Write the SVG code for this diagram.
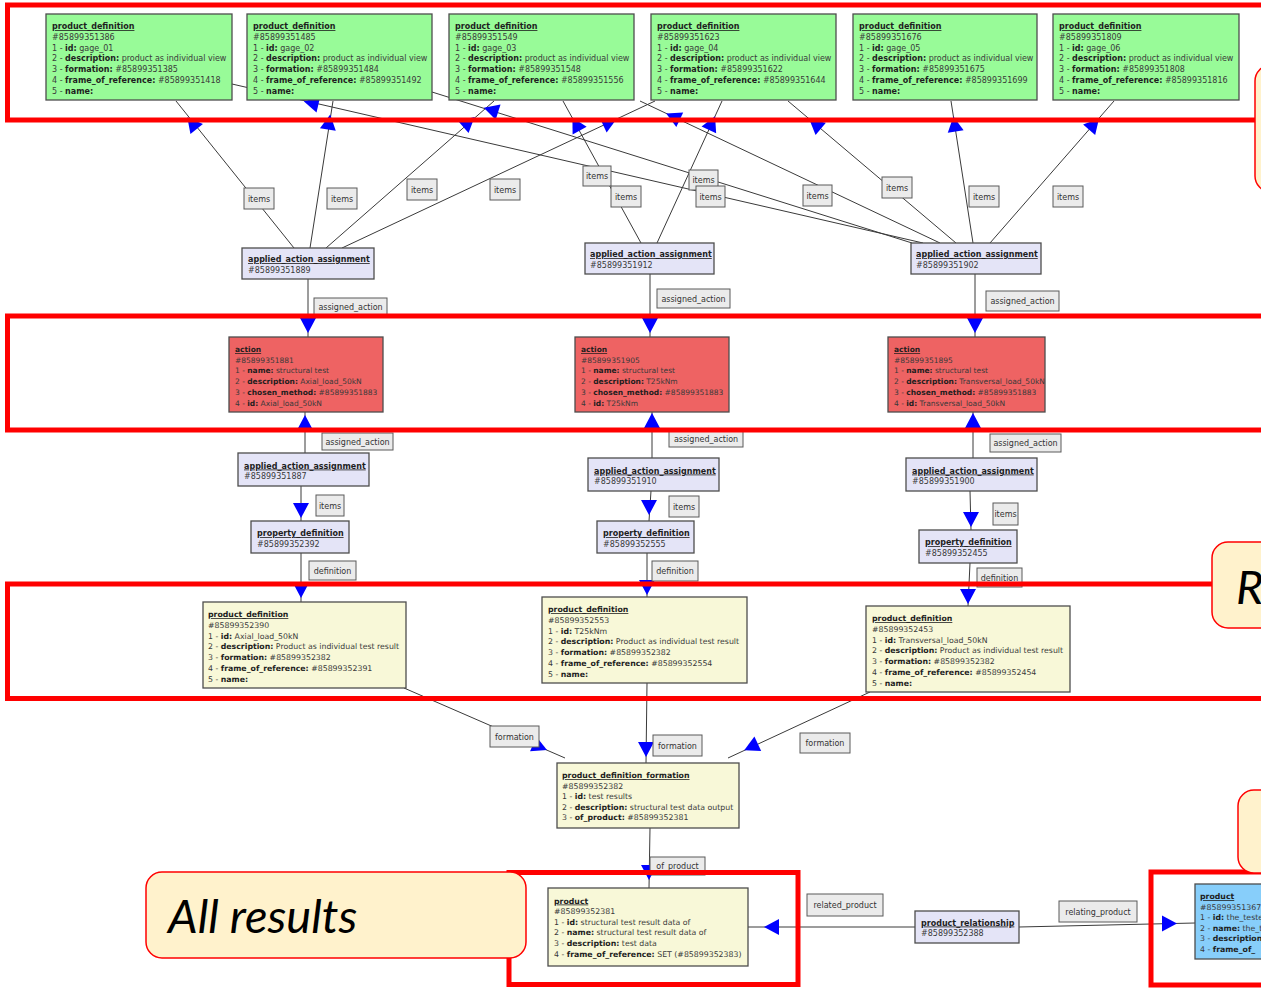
<svg xmlns="http://www.w3.org/2000/svg" xmlns:xlink="http://www.w3.org/1999/xlink" width="1261" height="988" viewBox="0 0 1261 988">
<style>
  .node rect { stroke: #4d4d4d; stroke-width: 1.3; }
  .g { fill: #98fb98; }
  .r { fill: #ee6363; }
  .l { fill: #e4e4f7; }
  .y { fill: #f8f8d8; }
  .b { fill: #87cefa; }
  .t { font-family: "DejaVu Sans", Verdana, sans-serif; font-size: 8px; fill: #3a3a3a; }
  .t.s { font-size: 7.5px; }
  .t.m { font-size: 7.8px; }
  .h { font-weight: bold; text-decoration: underline; fill: #1e1e1e; }
  .k { font-weight: bold; fill: #1e1e1e; }
  .lab rect { fill: #ebebeb; stroke: #5a5a5a; stroke-width: 1; }
  .lab text { font-family: "DejaVu Sans", Verdana, sans-serif; font-size: 8px; fill: #333; text-anchor: middle; }
  .conn line { stroke: #3a3a3a; stroke-width: 1; }
  .band { fill: none; stroke: #ff0000; stroke-width: 5; }
  .call { fill: #fff2cc; stroke: #ff0000; stroke-width: 1.5; }
  .big { font-family: Lato, "Liberation Sans", sans-serif; font-style: italic; font-size: 47px; fill: #000; }
</style>
<defs>
  <path id="ah" d="M0,0 L-15,-8 L-15,8 Z" fill="#0000ff"/>
</defs>
<rect width="1261" height="988" fill="#ffffff"/>

<!-- connectors -->
<g id="connectors" class="conn">
  <line x1="294" y1="248" x2="176" y2="101"/>
  <line x1="310" y1="248" x2="333" y2="101"/>
  <line x1="326" y1="248" x2="494" y2="101"/>
  <line x1="342" y1="248" x2="655" y2="101"/>
  <line x1="641" y1="243" x2="563" y2="101"/>
  <line x1="657" y1="243" x2="722" y2="101"/>
  <line x1="912" y1="243" x2="432" y2="92"/>
  <line x1="923" y1="243" x2="232" y2="84"/>
  <line x1="940" y1="243" x2="640" y2="101"/>
  <line x1="956" y1="243" x2="788" y2="101"/>
  <line x1="973" y1="243" x2="951" y2="101"/>
  <line x1="990" y1="243" x2="1114" y2="101"/>
  <line x1="308" y1="279" x2="308" y2="337"/>
  <line x1="650" y1="274" x2="650" y2="337"/>
  <line x1="975" y1="274" x2="975" y2="337"/>
  <line x1="305" y1="453" x2="305" y2="412"/>
  <line x1="652" y1="458" x2="652" y2="412"/>
  <line x1="973" y1="458" x2="973" y2="412"/>
  <line x1="301" y1="486" x2="301" y2="521"/>
  <line x1="651" y1="491" x2="649" y2="521"/>
  <line x1="970" y1="491" x2="971" y2="530"/>
  <line x1="301" y1="553" x2="301" y2="602"/>
  <line x1="647" y1="553" x2="647" y2="597"/>
  <line x1="970" y1="563" x2="968" y2="606"/>
  <line x1="404" y1="688" x2="565" y2="758"/>
  <line x1="647" y1="683" x2="646" y2="763"/>
  <line x1="870" y1="692" x2="728" y2="758"/>
  <line x1="650" y1="828" x2="649" y2="888"/>
  <line x1="915" y1="927" x2="748" y2="927"/>
  <line x1="1019" y1="927" x2="1195" y2="923"/>

  <!-- arrowheads -->
  <use xlink:href="#ah" transform="translate(187.3,117.2) rotate(-128.8)"/>
  <use xlink:href="#ah" transform="translate(330.2,114.6) rotate(-81.1)"/>
  <use xlink:href="#ah" transform="translate(474.6,117.1) rotate(-41.2)"/>
  <use xlink:href="#ah" transform="translate(616.8,118.8) rotate(-25.2)"/>
  <use xlink:href="#ah" transform="translate(572.4,117.4) rotate(-118.8)"/>
  <use xlink:href="#ah" transform="translate(715.1,116.2) rotate(-65.4)"/>
  <use xlink:href="#ah" transform="translate(483.8,107.7) rotate(-162.5)"/>
  <use xlink:href="#ah" transform="translate(303.7,101.3) rotate(-167)"/>
  <use xlink:href="#ah" transform="translate(666.2,113.4) rotate(-154.7)"/>
  <use xlink:href="#ah" transform="translate(809.3,119.2) rotate(-139.8)"/>
  <use xlink:href="#ah" transform="translate(953.4,116.6) rotate(-98.8)"/>
  <use xlink:href="#ah" transform="translate(1099,118.4) rotate(-48.9)"/>
  <use xlink:href="#ah" transform="translate(308,333) rotate(90)"/>
  <use xlink:href="#ah" transform="translate(650,333) rotate(90)"/>
  <use xlink:href="#ah" transform="translate(975,333) rotate(90)"/>
  <use xlink:href="#ah" transform="translate(305,415) rotate(-90)"/>
  <use xlink:href="#ah" transform="translate(652,413) rotate(-90)"/>
  <use xlink:href="#ah" transform="translate(973,413) rotate(-90)"/>
  <use xlink:href="#ah" transform="translate(301,518) rotate(90)"/>
  <use xlink:href="#ah" transform="translate(649,515) rotate(90)"/>
  <use xlink:href="#ah" transform="translate(971,527) rotate(90)"/>
  <use xlink:href="#ah" transform="translate(301,598) rotate(90)"/>
  <use xlink:href="#ah" transform="translate(647,595) rotate(90)"/>
  <use xlink:href="#ah" transform="translate(968,604) rotate(90)"/>
  <use xlink:href="#ah" transform="translate(646,757) rotate(90)"/>
  <use xlink:href="#ah" transform="translate(649,880) rotate(90)"/>
  <use xlink:href="#ah" transform="translate(547,750) rotate(23.5)"/>
  <use xlink:href="#ah" transform="translate(744.2,750.2) rotate(155)"/>
  <use xlink:href="#ah" transform="translate(764,927) rotate(180)"/>
  <use xlink:href="#ah" transform="translate(1177,923.5)"/>

  <!-- attribute labels -->
  <g class="lab">
    <rect x="244" y="188" width="30" height="21"/><text x="259" y="201.5">items</text>
    <rect x="327" y="188" width="30" height="21"/><text x="342" y="201.5">items</text>
    <rect x="407" y="179" width="30" height="21"/><text x="422" y="192.5">items</text>
    <rect x="490" y="179" width="30" height="21"/><text x="505" y="192.5">items</text>
    <rect x="583" y="166" width="28" height="20"/><text x="597" y="179">items</text>
    <rect x="611" y="186" width="30" height="21"/><text x="626" y="199.5">items</text>
    <rect x="689" y="170" width="29" height="20"/><text x="703.5" y="183">items</text>
    <rect x="696" y="186" width="29" height="21"/><text x="710.5" y="199.5">items</text>
    <rect x="803" y="185" width="29" height="21"/><text x="817.5" y="198.5">items</text>
    <rect x="882" y="177" width="30" height="21"/><text x="897" y="190.5">items</text>
    <rect x="969" y="186" width="30" height="21"/><text x="984" y="199.5">items</text>
    <rect x="1053" y="186" width="30" height="21"/><text x="1068" y="199.5">items</text>

    <rect x="314" y="298" width="73" height="17"/><text x="350.5" y="309.5">assigned_action</text>
    <rect x="657" y="289" width="73" height="19"/><text x="693.5" y="301.5">assigned_action</text>
    <rect x="986" y="291" width="73" height="20"/><text x="1022.5" y="304">assigned_action</text>
    <rect x="322" y="433" width="71" height="17"/><text x="357.5" y="444.5">assigned_action</text>
    <rect x="669" y="430" width="74" height="17"/><text x="706" y="441.5">assigned_action</text>
    <rect x="990" y="434" width="71" height="18"/><text x="1025.5" y="446">assigned_action</text>

    <rect x="316" y="495" width="28" height="21"/><text x="330" y="508.5">items</text>
    <rect x="669" y="496" width="30" height="21"/><text x="684" y="509.5">items</text>
    <rect x="993" y="503" width="25" height="22"/><text x="1005.5" y="517">items</text>

    <rect x="309" y="561" width="47" height="19"/><text x="332.5" y="573.5">definition</text>
    <rect x="652" y="561" width="46" height="20"/><text x="675" y="574">definition</text>
    <rect x="977" y="568" width="45" height="19"/><text x="999.5" y="580.5">definition</text>

    <rect x="490" y="726" width="49" height="21"/><text x="514.5" y="739.5">formation</text>
    <rect x="653" y="735" width="49" height="21"/><text x="677.5" y="748.5">formation</text>
    <rect x="800" y="733" width="50" height="20"/><text x="825" y="746">formation</text>

    <rect x="650" y="857" width="55" height="18"/><text x="677.5" y="869">of_product</text>
    <rect x="807" y="894" width="76" height="22"/><text x="845" y="908">related_product</text>
    <rect x="1059" y="901" width="78" height="21"/><text x="1098" y="914.5">relating_product</text>
  </g>
</g>

<!-- gage product definitions -->
<g id="pd-351386" class="node">
  <rect class="g" x="46" y="14" width="186" height="86"/>
  <text class="t" x="52" y="29"><tspan class="h">product_definition</tspan><tspan x="52" dy="10.8">#85899351386</tspan><tspan x="52" dy="10.8">1 - <tspan class="k">id:</tspan> gage_01</tspan><tspan x="52" dy="10.8">2 - <tspan class="k">description:</tspan> product as individual view</tspan><tspan x="52" dy="10.8">3 - <tspan class="k">formation:</tspan> #85899351385</tspan><tspan x="52" dy="10.8">4 - <tspan class="k">frame_of_reference:</tspan> #85899351418</tspan><tspan x="52" dy="10.8">5 - <tspan class="k">name:</tspan></tspan></text>
</g>
<g id="pd-351485" class="node">
  <rect class="g" x="247" y="14" width="185" height="86"/>
  <text class="t" x="253" y="29"><tspan class="h">product_definition</tspan><tspan x="253" dy="10.8">#85899351485</tspan><tspan x="253" dy="10.8">1 - <tspan class="k">id:</tspan> gage_02</tspan><tspan x="253" dy="10.8">2 - <tspan class="k">description:</tspan> product as individual view</tspan><tspan x="253" dy="10.8">3 - <tspan class="k">formation:</tspan> #85899351484</tspan><tspan x="253" dy="10.8">4 - <tspan class="k">frame_of_reference:</tspan> #85899351492</tspan><tspan x="253" dy="10.8">5 - <tspan class="k">name:</tspan></tspan></text>
</g>
<g id="pd-351549" class="node">
  <rect class="g" x="449" y="14" width="185" height="86"/>
  <text class="t" x="455" y="29"><tspan class="h">product_definition</tspan><tspan x="455" dy="10.8">#85899351549</tspan><tspan x="455" dy="10.8">1 - <tspan class="k">id:</tspan> gage_03</tspan><tspan x="455" dy="10.8">2 - <tspan class="k">description:</tspan> product as individual view</tspan><tspan x="455" dy="10.8">3 - <tspan class="k">formation:</tspan> #85899351548</tspan><tspan x="455" dy="10.8">4 - <tspan class="k">frame_of_reference:</tspan> #85899351556</tspan><tspan x="455" dy="10.8">5 - <tspan class="k">name:</tspan></tspan></text>
</g>
<g id="pd-351623" class="node">
  <rect class="g" x="651" y="14" width="185" height="86"/>
  <text class="t" x="657" y="29"><tspan class="h">product_definition</tspan><tspan x="657" dy="10.8">#85899351623</tspan><tspan x="657" dy="10.8">1 - <tspan class="k">id:</tspan> gage_04</tspan><tspan x="657" dy="10.8">2 - <tspan class="k">description:</tspan> product as individual view</tspan><tspan x="657" dy="10.8">3 - <tspan class="k">formation:</tspan> #85899351622</tspan><tspan x="657" dy="10.8">4 - <tspan class="k">frame_of_reference:</tspan> #85899351644</tspan><tspan x="657" dy="10.8">5 - <tspan class="k">name:</tspan></tspan></text>
</g>
<g id="pd-351676" class="node">
  <rect class="g" x="853" y="14" width="184" height="86"/>
  <text class="t" x="859" y="29"><tspan class="h">product_definition</tspan><tspan x="859" dy="10.8">#85899351676</tspan><tspan x="859" dy="10.8">1 - <tspan class="k">id:</tspan> gage_05</tspan><tspan x="859" dy="10.8">2 - <tspan class="k">description:</tspan> product as individual view</tspan><tspan x="859" dy="10.8">3 - <tspan class="k">formation:</tspan> #85899351675</tspan><tspan x="859" dy="10.8">4 - <tspan class="k">frame_of_reference:</tspan> #85899351699</tspan><tspan x="859" dy="10.8">5 - <tspan class="k">name:</tspan></tspan></text>
</g>
<g id="pd-351809" class="node">
  <rect class="g" x="1053" y="14" width="186" height="86"/>
  <text class="t" x="1059" y="29"><tspan class="h">product_definition</tspan><tspan x="1059" dy="10.8">#85899351809</tspan><tspan x="1059" dy="10.8">1 - <tspan class="k">id:</tspan> gage_06</tspan><tspan x="1059" dy="10.8">2 - <tspan class="k">description:</tspan> product as individual view</tspan><tspan x="1059" dy="10.8">3 - <tspan class="k">formation:</tspan> #85899351808</tspan><tspan x="1059" dy="10.8">4 - <tspan class="k">frame_of_reference:</tspan> #85899351816</tspan><tspan x="1059" dy="10.8">5 - <tspan class="k">name:</tspan></tspan></text>
</g>

<!-- applied action assignments (items) -->
<g id="aaa-351889" class="node">
  <rect class="l" x="242" y="248" width="132" height="31"/>
  <text class="t" x="248" y="262"><tspan class="h">applied_action_assignment</tspan><tspan x="248" dy="10.5">#85899351889</tspan></text>
</g>
<g id="aaa-351912" class="node">
  <rect class="l" x="585" y="243" width="129" height="31"/>
  <text class="t" x="590" y="257"><tspan class="h">applied_action_assignment</tspan><tspan x="590" dy="10.5">#85899351912</tspan></text>
</g>
<g id="aaa-351902" class="node">
  <rect class="l" x="911" y="243" width="130" height="31"/>
  <text class="t" x="916" y="257"><tspan class="h">applied_action_assignment</tspan><tspan x="916" dy="10.5">#85899351902</tspan></text>
</g>

<!-- actions -->
<g id="action-351881" class="node">
  <rect class="r" x="229" y="337" width="154" height="75"/>
  <text class="t s" x="235" y="352"><tspan class="h">action</tspan><tspan x="235" dy="10.7">#85899351881</tspan><tspan x="235" dy="10.7">1 - <tspan class="k">name:</tspan> structural test</tspan><tspan x="235" dy="10.7">2 - <tspan class="k">description:</tspan> Axial_load_50kN</tspan><tspan x="235" dy="10.7">3 - <tspan class="k">chosen_method:</tspan> #85899351883</tspan><tspan x="235" dy="10.7">4 - <tspan class="k">id:</tspan> Axial_load_50kN</tspan></text>
</g>
<g id="action-351905" class="node">
  <rect class="r" x="575" y="337" width="154" height="75"/>
  <text class="t s" x="581" y="352"><tspan class="h">action</tspan><tspan x="581" dy="10.7">#85899351905</tspan><tspan x="581" dy="10.7">1 - <tspan class="k">name:</tspan> structural test</tspan><tspan x="581" dy="10.7">2 - <tspan class="k">description:</tspan> T25kNm</tspan><tspan x="581" dy="10.7">3 - <tspan class="k">chosen_method:</tspan> #85899351883</tspan><tspan x="581" dy="10.7">4 - <tspan class="k">id:</tspan> T25kNm</tspan></text>
</g>
<g id="action-351895" class="node">
  <rect class="r" x="888" y="337" width="157" height="75"/>
  <text class="t s" x="894" y="352"><tspan class="h">action</tspan><tspan x="894" dy="10.7">#85899351895</tspan><tspan x="894" dy="10.7">1 - <tspan class="k">name:</tspan> structural test</tspan><tspan x="894" dy="10.7">2 - <tspan class="k">description:</tspan> Transversal_load_50kN</tspan><tspan x="894" dy="10.7">3 - <tspan class="k">chosen_method:</tspan> #85899351883</tspan><tspan x="894" dy="10.7">4 - <tspan class="k">id:</tspan> Transversal_load_50kN</tspan></text>
</g>

<!-- applied action assignments (property definitions) -->
<g id="aaa-351887" class="node">
  <rect class="l" x="238" y="453" width="131" height="33"/>
  <text class="t" x="244" y="468.5"><tspan class="h">applied_action_assignment</tspan><tspan x="244" dy="10.5">#85899351887</tspan></text>
</g>
<g id="aaa-351910" class="node">
  <rect class="l" x="588" y="458" width="131" height="33"/>
  <text class="t" x="594" y="473.5"><tspan class="h">applied_action_assignment</tspan><tspan x="594" dy="10.5">#85899351910</tspan></text>
</g>
<g id="aaa-351900" class="node">
  <rect class="l" x="906" y="458" width="131" height="33"/>
  <text class="t" x="912" y="473.5"><tspan class="h">applied_action_assignment</tspan><tspan x="912" dy="10.5">#85899351900</tspan></text>
</g>

<!-- property definitions -->
<g id="prop-352392" class="node">
  <rect class="l" x="251" y="521" width="98" height="32"/>
  <text class="t" x="257" y="536"><tspan class="h">property_definition</tspan><tspan x="257" dy="10.5">#85899352392</tspan></text>
</g>
<g id="prop-352555" class="node">
  <rect class="l" x="597" y="521" width="97" height="32"/>
  <text class="t" x="603" y="536"><tspan class="h">property_definition</tspan><tspan x="603" dy="10.5">#85899352555</tspan></text>
</g>
<g id="prop-352455" class="node">
  <rect class="l" x="919" y="530" width="98" height="33"/>
  <text class="t" x="925" y="545"><tspan class="h">property_definition</tspan><tspan x="925" dy="10.5">#85899352455</tspan></text>
</g>

<!-- test result product definitions -->
<g id="pd-352390" class="node">
  <rect class="y" x="203" y="602" width="203" height="86"/>
  <text class="t m" x="208" y="617"><tspan class="h">product_definition</tspan><tspan x="208" dy="10.8">#85899352390</tspan><tspan x="208" dy="10.8">1 - <tspan class="k">id:</tspan> Axial_load_50kN</tspan><tspan x="208" dy="10.8">2 - <tspan class="k">description:</tspan> Product as individual test result</tspan><tspan x="208" dy="10.8">3 - <tspan class="k">formation:</tspan> #85899352382</tspan><tspan x="208" dy="10.8">4 - <tspan class="k">frame_of_reference:</tspan> #85899352391</tspan><tspan x="208" dy="10.8">5 - <tspan class="k">name:</tspan></tspan></text>
</g>
<g id="pd-352553" class="node">
  <rect class="y" x="542" y="597" width="205" height="86"/>
  <text class="t m" x="548" y="612"><tspan class="h">product_definition</tspan><tspan x="548" dy="10.8">#85899352553</tspan><tspan x="548" dy="10.8">1 - <tspan class="k">id:</tspan> T25kNm</tspan><tspan x="548" dy="10.8">2 - <tspan class="k">description:</tspan> Product as individual test result</tspan><tspan x="548" dy="10.8">3 - <tspan class="k">formation:</tspan> #85899352382</tspan><tspan x="548" dy="10.8">4 - <tspan class="k">frame_of_reference:</tspan> #85899352554</tspan><tspan x="548" dy="10.8">5 - <tspan class="k">name:</tspan></tspan></text>
</g>
<g id="pd-352453" class="node">
  <rect class="y" x="866" y="606" width="204" height="86"/>
  <text class="t m" x="872" y="621"><tspan class="h">product_definition</tspan><tspan x="872" dy="10.8">#85899352453</tspan><tspan x="872" dy="10.8">1 - <tspan class="k">id:</tspan> Transversal_load_50kN</tspan><tspan x="872" dy="10.8">2 - <tspan class="k">description:</tspan> Product as individual test result</tspan><tspan x="872" dy="10.8">3 - <tspan class="k">formation:</tspan> #85899352382</tspan><tspan x="872" dy="10.8">4 - <tspan class="k">frame_of_reference:</tspan> #85899352454</tspan><tspan x="872" dy="10.8">5 - <tspan class="k">name:</tspan></tspan></text>
</g>

<!-- formation -->
<g id="pdf-352382" class="node">
  <rect class="y" x="557" y="763" width="182" height="65"/>
  <text class="t m" x="562" y="778"><tspan class="h">product_definition_formation</tspan><tspan x="562" dy="10.6">#85899352382</tspan><tspan x="562" dy="10.6">1 - <tspan class="k">id:</tspan> test results</tspan><tspan x="562" dy="10.6">2 - <tspan class="k">description:</tspan> structural test data output</tspan><tspan x="562" dy="10.6">3 - <tspan class="k">of_product:</tspan> #85899352381</tspan></text>
</g>

<!-- result product -->
<g id="product-352381" class="node">
  <rect class="y" x="548" y="888" width="200" height="78"/>
  <text class="t m" x="554" y="903.5"><tspan class="h">product</tspan><tspan x="554" dy="10.6">#85899352381</tspan><tspan x="554" dy="10.6">1 - <tspan class="k">id:</tspan> structural test result data of</tspan><tspan x="554" dy="10.6">2 - <tspan class="k">name:</tspan> structural test result data of</tspan><tspan x="554" dy="10.6">3 - <tspan class="k">description:</tspan> test data</tspan><tspan x="554" dy="10.6">4 - <tspan class="k">frame_of_reference:</tspan> SET (#85899352383)</tspan></text>
</g>

<g id="rel-352388" class="node">
  <rect class="l" x="915" y="911" width="104" height="32"/>
  <text class="t" x="921" y="925.5"><tspan class="h">product_relationship</tspan><tspan x="921" dy="10.5">#85899352388</tspan></text>
</g>

<!-- tested product -->
<g id="product-351367" class="node">
  <rect class="b" x="1195" y="884" width="100" height="75"/>
  <text class="t m" x="1200" y="899"><tspan class="h">product</tspan><tspan x="1200" dy="10.6">#85899351367</tspan><tspan x="1200" dy="10.6">1 - <tspan class="k">id:</tspan> the_teste</tspan><tspan x="1200" dy="10.6">2 - <tspan class="k">name:</tspan> the_t</tspan><tspan x="1200" dy="10.6">3 - <tspan class="k">description</tspan></tspan><tspan x="1200" dy="10.6">4 - <tspan class="k">frame_of_</tspan></tspan></text>
</g>

<!-- highlight frames -->
<g id="highlights">
  <rect class="band" x="7.5" y="5" width="1270" height="115"/>
  <rect class="band" x="7.5" y="316" width="1270" height="114"/>
  <rect class="band" x="7.5" y="584" width="1270" height="114.5"/>
  <rect class="band" x="509" y="872.5" width="289" height="112"/>
  <rect class="band" x="1151" y="872" width="130" height="113"/>
</g>

<!-- callouts -->
<g id="callouts">
  <rect class="call" x="1255" y="65" width="60" height="127" rx="16"/>
  <rect class="call" x="1212" y="542" width="90" height="86" rx="16"/>
  <text class="big" x="1236" y="604">R</text>
  <rect class="call" x="1238" y="790" width="60" height="83" rx="16"/>
  <rect class="call" x="146" y="872" width="380" height="86" rx="16"/>
  <text class="big" x="168" y="933">All results</text>
</g>
</svg>
